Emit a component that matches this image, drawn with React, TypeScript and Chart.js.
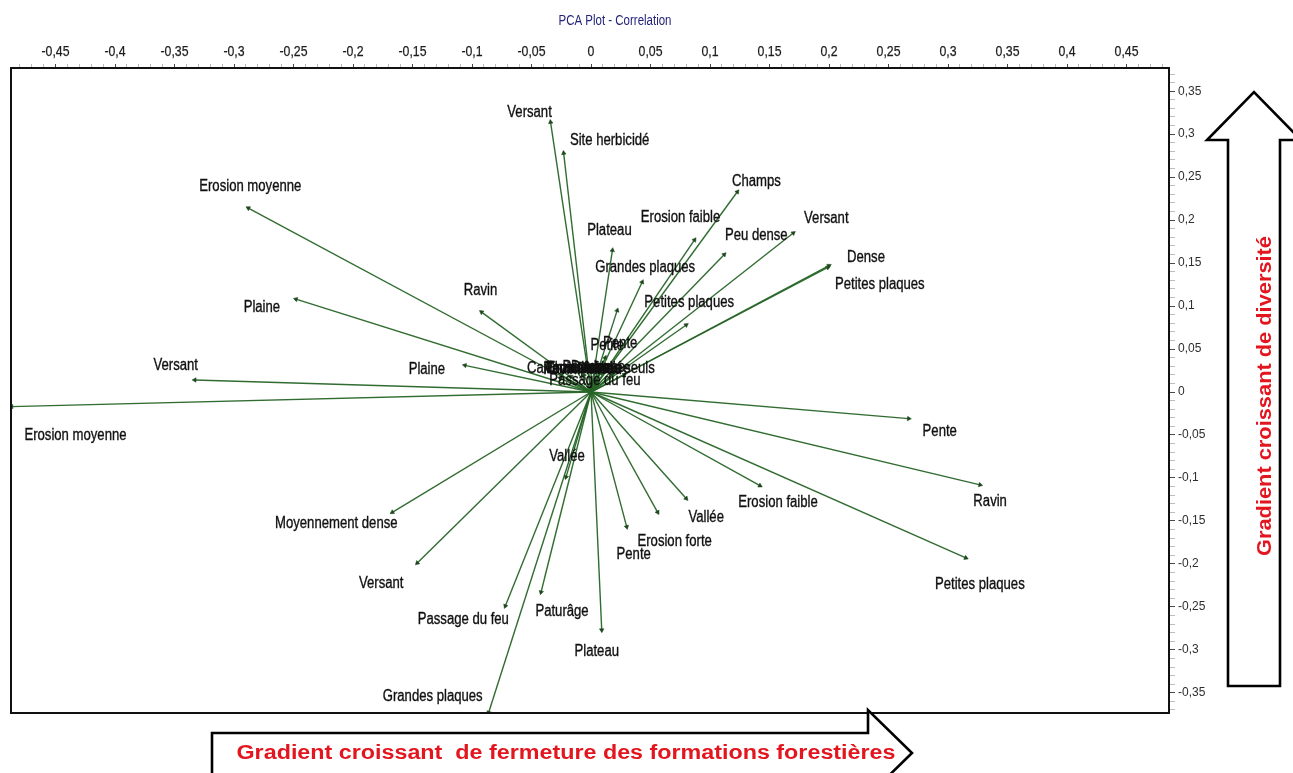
import { useEffect, useRef } from 'react';
import { Chart, registerables } from 'chart.js';

Chart.register(...registerables);

// Correlation circle: variable names with their loadings on axes 1 and 2
const VARIABLES = [
  'Erosion moyenne', 'Plaine', 'Ravin', 'Plaine', 'Versant', 'Erosion moyenne',
  'Moyennement dense', 'Versant', 'Passage du feu', 'Grandes plaques', 'Paturâge', 'Vallée',
  'Plateau', 'Pente', 'Erosion forte', 'Vallée', 'Erosion faible', 'Pente',
  'Ravin', 'Petites plaques', 'Versant', 'Site herbicidé', 'Plateau', 'Champs',
  'Erosion faible', 'Peu dense', 'Versant', 'Dense', 'Petites plaques', 'Grandes plaques',
  'Petites plaques', 'Pente', 'Petite', 'Cailloux', 'Ravin', 'Champs',
  'Termitières', 'Erosion forte', 'Dense', 'Peu dense', 'Plateau', 'Vallée',
  'Arbres seuls', 'Passage du feu',
];
const AXIS1 = [
  -0.288, -0.248, -0.092, -0.106, -0.333, -0.487,
  -0.167, -0.146, -0.072, -0.086, -0.042, -0.021,
  0.009, 0.030, 0.056, 0.080, 0.142, 0.267,
  0.327, 0.315, -0.034, -0.023, 0.018, 0.123,
  0.087, 0.112, 0.170, 0.200, 0.199, 0.043,
  0.080, 0.022, 0.012, -0.025, -0.026, -0.017,
  -0.012, -0.006, 0.000, 0.004, 0.008, 0.018,
  0.028, 0.005,
];
const AXIS2 = [
  0.214, 0.108, 0.093, 0.031, 0.014, -0.017,
  -0.140, -0.199, -0.249, -0.373, -0.233, -0.099,
  -0.277, -0.157, -0.140, -0.124, -0.109, -0.031,
  -0.108, -0.193, 0.314, 0.278, 0.165, 0.233,
  0.177, 0.160, 0.185, 0.147, 0.145, 0.128,
  0.078, 0.095, 0.040, 0.020, 0.016, 0.018,
  0.024, 0.020, 0.028, 0.026, 0.022, 0.020,
  0.020, 0.010,
];
// where each name sits relative to its arrow tip (px)
const LABEL_SHIFT_X = [
  2, -34, -1, -38, -19, 64,
  -56, -36, -42, -56, 21, 1,
  -5, 7, 17, 20, 18, 31,
  10, 14, -21, 46, -3, 19,
  -14, 32, 33, 37, 52, 3,
  3, 3, 2, -11, 0, -1,
  1, 0, -1, -2, -1, 0,
  -6, -2,
];
const LABEL_SHIFT_Y = [
  -21, 8, -21, 4, -14, 29,
  11, 21, 14, -16, 19, -20,
  22, 28, 29, 19, 17, 13,
  17, 27, -10, -12, -20, -10,
  -22, -19, -14, -8, 17, -14,
  -22, 33, -12, -6, -9, -8,
  -3, -6, 0, -2, -4, -6,
  -6, -3,
];

const X_TICKS = [-0.45, -0.4, -0.35, -0.3, -0.25, -0.2, -0.15, -0.1, -0.05, 0, 0.05, 0.1, 0.15, 0.2, 0.25, 0.3, 0.35, 0.4, 0.45];
const X_MIN = -0.4874;
const X_MAX = 0.4857;
const Y_MIN = -0.3735;
const Y_MAX = 0.377;

const TITLE = 'PCA Plot - Correlation';
const RIGHT_NOTE = 'Gradient croissant de diversité';
const BOTTOM_NOTE = 'Gradient croissant  de fermeture des formations forestières';

const LINE = 'rgba(38, 100, 38, 0.95)';
const HEAD = '#1c461c';
const NOTE_RED = '#e3161f';
const SANS = '"Liberation Sans", Arial, sans-serif';

const fmt = (v: number) => {
  const r = Math.round(v * 100) / 100;
  return r === 0 ? '0' : String(r).replace('.', ',');
};
const isMajor = (v: number) => Math.abs(v * 20 - Math.round(v * 20)) < 1e-6;

function narrowText(
  ctx: CanvasRenderingContext2D, text: string, x: number, y: number,
  size: number, color: string, squeeze = 0.82, heavy = 0,
) {
  ctx.save();
  ctx.font = `${size}px ${SANS}`;
  ctx.fillStyle = color;
  ctx.textAlign = 'center';
  ctx.textBaseline = 'middle';
  ctx.translate(x, y);
  ctx.scale(squeeze, 1);
  ctx.fillText(text, 0, 0);
  if (heavy > 0) {
    ctx.strokeStyle = color;
    ctx.lineWidth = heavy;
    ctx.strokeText(text, 0, 0);
  }
  ctx.restore();
}

function fittedText(
  ctx: CanvasRenderingContext2D, text: string, cx: number, cy: number,
  width: number, size: number, color: string, angle = 0,
) {
  ctx.save();
  ctx.font = `bold ${size}px ${SANS}`;
  const w = ctx.measureText(text).width;
  ctx.fillStyle = color;
  ctx.textAlign = 'center';
  ctx.textBaseline = 'middle';
  ctx.translate(cx, cy);
  ctx.rotate(angle);
  ctx.scale(width / w, 1);
  ctx.fillText(text, 0, 0);
  ctx.restore();
}

function outline(ctx: CanvasRenderingContext2D, pts: number[][]) {
  ctx.save();
  ctx.beginPath();
  pts.forEach(([x, y], i) => (i === 0 ? ctx.moveTo(x, y) : ctx.lineTo(x, y)));
  ctx.closePath();
  ctx.fillStyle = '#ffffff';
  ctx.fill();
  ctx.lineWidth = 2.6;
  ctx.lineJoin = 'miter';
  ctx.strokeStyle = '#000000';
  ctx.stroke();
  ctx.restore();
}

const decorations = {
  id: 'pcaDecorations',
  afterDatasetsDraw(chart: any) {
    const { ctx, scales } = chart;
    const xs = scales.x;
    const ys = scales.y;
    VARIABLES.forEach((name, i) => {
      const px = xs.getPixelForValue(AXIS1[i]) + LABEL_SHIFT_X[i];
      const py = ys.getPixelForValue(AXIS2[i]) + LABEL_SHIFT_Y[i];
      narrowText(ctx, name, px, py, 16, '#111111', 0.82, 0.35);
    });
  },
  afterDraw(chart: any) {
    const { ctx, chartArea, scales } = chart;
    const { left, right, top, bottom } = chartArea;

    // frame of the plotting area
    ctx.save();
    ctx.lineWidth = 2;
    ctx.strokeStyle = '#111111';
    ctx.strokeRect(left, top, right - left, bottom - top);
    ctx.restore();

    // top axis labels
    X_TICKS.forEach((v) => {
      narrowText(ctx, fmt(v), scales.x.getPixelForValue(v), top - 16, 15, '#1c1c1c', 0.82, 0.25);
    });

    // title
    narrowText(ctx, TITLE, (left + right) / 2 + 25, 21, 14, '#23237a');

    // upward block arrow on the right
    outline(ctx, [
      [right + 59, bottom - 27], [right + 59, 140], [right + 38, 140], [right + 85, 92],
      [right + 132, 140], [right + 111, 140], [right + 111, bottom - 27],
    ]);
    fittedText(ctx, RIGHT_NOTE, right + 96, scales.y.getPixelForValue(0) + 4, 320, 20, NOTE_RED, -Math.PI / 2);

    // rightward block arrow at the bottom
    outline(ctx, [
      [left + 201, bottom + 63], [left + 201, bottom + 20], [left + 857, bottom + 20], [left + 857, bottom - 3],
      [left + 901, bottom + 40], [left + 857, bottom + 83], [left + 857, bottom + 63],
    ]);
    fittedText(ctx, BOTTOM_NOTE, left + 555, bottom + 40, 659, 20, NOTE_RED);
  },
};

export default function App() {
  const canvasRef = useRef<HTMLCanvasElement | null>(null);

  useEffect(() => {
    document.body.style.margin = '0';
    const canvas = canvasRef.current;
    if (!canvas) return;

    const tipAngle = (c: any) => {
      const xs = c.chart.scales.x;
      const ys = c.chart.scales.y;
      const i = c.datasetIndex;
      if (!xs || !ys) return 0;
      const dx = xs.getPixelForValue(AXIS1[i]) - xs.getPixelForValue(0);
      const dy = ys.getPixelForValue(AXIS2[i]) - ys.getPixelForValue(0);
      return (Math.atan2(dx, -dy) * 180) / Math.PI;
    };

    const datasets = VARIABLES.map((name, i) => ({
      label: name,
      data: [{ x: 0, y: 0 }, { x: AXIS1[i], y: AXIS2[i] }],
      showLine: true,
      borderColor: LINE,
      borderWidth: 1.4,
      pointStyle: 'triangle',
      pointRadius: (c: any) => (c.dataIndex === 1 ? 2.6 : 0),
      pointHoverRadius: 0,
      pointBackgroundColor: HEAD,
      pointBorderColor: HEAD,
      pointBorderWidth: 0.5,
      pointRotation: tipAngle,
    }));

    const tickColor = (c: any) => (c.tick && isMajor(c.tick.value) ? '#4a4a4a' : '#bdbdbd');

    const chart = new Chart(canvas, {
      type: 'scatter',
      data: { datasets } as any,
      options: {
        animation: false,
        responsive: false,
        maintainAspectRatio: false,
        events: [],
        layout: { padding: { left: 11, top: 0, right: 0, bottom: 60 } },
        plugins: {
          legend: { display: false },
          tooltip: { enabled: false },
          title: { display: false },
        },
        scales: {
          x: {
            type: 'linear',
            position: 'top',
            min: X_MIN,
            max: X_MAX,
            afterFit: (s: any) => { s.height = 68; },
            border: { display: false },
            grid: { drawOnChartArea: false, drawTicks: true, tickLength: 4, color: tickColor, tickColor },
            ticks: { stepSize: 0.01, includeBounds: false, autoSkip: false, maxRotation: 0, callback: () => '' },
          },
          y: {
            type: 'linear',
            position: 'right',
            min: Y_MIN,
            max: Y_MAX,
            afterFit: (s: any) => { s.width = 124; },
            border: { display: false },
            grid: { drawOnChartArea: false, drawTicks: true, tickLength: 6, color: tickColor, tickColor },
            ticks: {
              stepSize: 0.01,
              includeBounds: false,
              autoSkip: false,
              padding: 3,
              color: '#2e2e2e',
              font: { family: SANS, size: 12 },
              callback: (v: any) => (isMajor(Number(v)) ? fmt(Number(v)) : ''),
            },
          },
        },
      } as any,
      plugins: [decorations],
    });

    return () => chart.destroy();
  }, []);

  return (
    <div style={{ position: 'absolute', left: 0, top: 0, width: 1293, height: 773, background: '#ffffff' }}>
      <canvas ref={canvasRef} width={1293} height={773} style={{ display: 'block' }} />
    </div>
  );
}
